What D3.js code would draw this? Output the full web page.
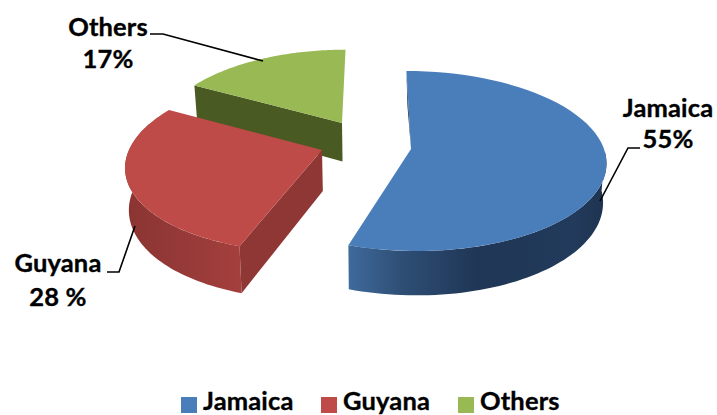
<!DOCTYPE html>
<html><head><meta charset="utf-8">
<script src="https://cdn.jsdelivr.net/npm/d3@7"></script>
<style>html,body{margin:0;padding:0;background:#fff}svg{display:block}text{font-family:Lato,"Open Sans",sans-serif;font-weight:700;fill:#000;stroke:#000;stroke-width:.35px;font-size:25.5px;letter-spacing:.15px}</style>
</head><body><script>
const categories = ["Jamaica","Guyana","Others"];
const values = [55,28,17];
const percentLabels = ["55%","28 %","17%"];
const colors = ["#4a7ebb","#be4b48","#98b954"];

const W=717,H=415;
const svg=d3.select("body").append("svg").attr("width",W).attr("height",H);
const defs=svg.append("defs");

// layout of the exploded perspective pie
const R=193, Ry=88.4, K=0.133, VX=378, CONVERGE=0.015;
const sliceLayout=[
 {cx:411,cy:149,scale:1,   depth:38.5, vx:372, wall:[92,198],  wallStops:[["0%","#1d3350"],["12%","#223a5b"],["50%","#1f3656"],["80%","#2f4f76"],["100%","#3f6a9c"]], x0:349,x1:606},
 {cx:322,cy:150,scale:1,   depth:41, vx:420, wall:[198,288], wallStops:[["0%","#a5403d"],["50%","#963a38"],["100%","#8b3533"]], x0:128,x1:245, side:true, sideColor:"#8f3735"},
 {cx:342,cy:123,scale:0.94,depth:41, vx:372, wall:null, side:true, sideColor:"#4a5a23"}
];
const pie=d3.pie().sort(null).value(d=>d).startAngle(0).endAngle(2*Math.PI);
const arcs=pie(values);

function project(l,a,r){ // a in radians clockwise from top, r in 0..1
  const c=Math.cos(a)*r, s=Math.sin(a)*r, p=1/(1+K*c);
  return {x:l.vx+(l.cx-l.vx+R*l.scale*s)*p, y:l.cy-Ry*l.scale*c*p, p};
}
function drop(l,pt){return [pt.x+(VX-pt.x)*CONVERGE, pt.y+l.depth*l.scale*pt.p];}
const line=d3.line();
const rad=d3.scaleLinear().domain([0,180]).range([0,Math.PI]);

const order=[2,1,0];
order.forEach(i=>{
  const l=sliceLayout[i], arc=arcs[i], g=svg.append("g");
  const apex=project(l,0,0);
  const angles=d3.range(0,61).map(t=>arc.startAngle+(arc.endAngle-arc.startAngle)*t/60);
  const rim=angles.map(a=>project(l,a,1));

  // radial side face
  if(l.side){
    const edge=project(l,arc.startAngle,1);
    g.append("path").attr("d",line([[apex.x,apex.y],[edge.x,edge.y],drop(l,edge),drop(l,apex)])+"Z").attr("fill",l.sideColor);
  }
  // outer wall
  if(l.wall){
    const id="wall"+i;
    const grad=defs.append("linearGradient").attr("id",id).attr("gradientUnits","userSpaceOnUse")
      .attr("x1",l.x1).attr("x2",l.x0).attr("y1",0).attr("y2",0);
    l.wallStops.forEach(s=>grad.append("stop").attr("offset",s[0]).attr("stop-color",s[1]));
    const wa=d3.range(0,61).map(t=>rad(l.wall[0]+(l.wall[1]-l.wall[0])*t/60));
    const top=wa.map(a=>project(l,a,1));
    const pts=top.map(p=>[p.x,p.y]).concat(top.slice().reverse().map(p=>drop(l,p)));
    g.append("path").attr("d",line(pts)+"Z").attr("fill",`url(#${id})`);
  }
  // inner sliver on Jamaica
  if(i===0){
    const t0=project(l,0,1);
    g.append("path").attr("d",line([[t0.x,t0.y],[apex.x,apex.y],[t0.x+1,t0.y+l.depth*0.9]])+"Z").attr("fill","#1f3656");
  }
  // top surface
  const pts=[[apex.x,apex.y]].concat(rim.map(p=>[p.x,p.y]));
  g.append("path").attr("d",line(pts)+"Z").attr("fill",colors[i]);
});

// labels with leaders
const labelLayout=[
 {x:668,y1:117,y2:148,leader:[[640,148],[628,148],[600,201]]},
 {x:58, y1:272,y2:306,leader:[[107,272],[119,272],[135,226]]},
 {x:108,y1:36, y2:68, leader:[[150,34],[163,34],[263,61]]}
];
categories.forEach((c,i)=>{
  const l=labelLayout[i];
  svg.append("path").attr("d",line(l.leader)).attr("fill","none").attr("stroke","#000").attr("stroke-width",1.6);
  svg.append("text").attr("x",l.x).attr("y",l.y1).attr("text-anchor","middle").text(c);
  svg.append("text").attr("x",l.x).attr("y",l.y2).attr("text-anchor","middle").text(percentLabels[i]);
});

// legend
const legendX=[181,321,458];
categories.forEach((c,i)=>{
  svg.append("rect").attr("x",legendX[i]).attr("y",397).attr("width",16).attr("height",16).attr("fill",colors[i]);
  svg.append("text").attr("x",legendX[i]+22).attr("y",409.5).text(c);
});
</script></body></html>
